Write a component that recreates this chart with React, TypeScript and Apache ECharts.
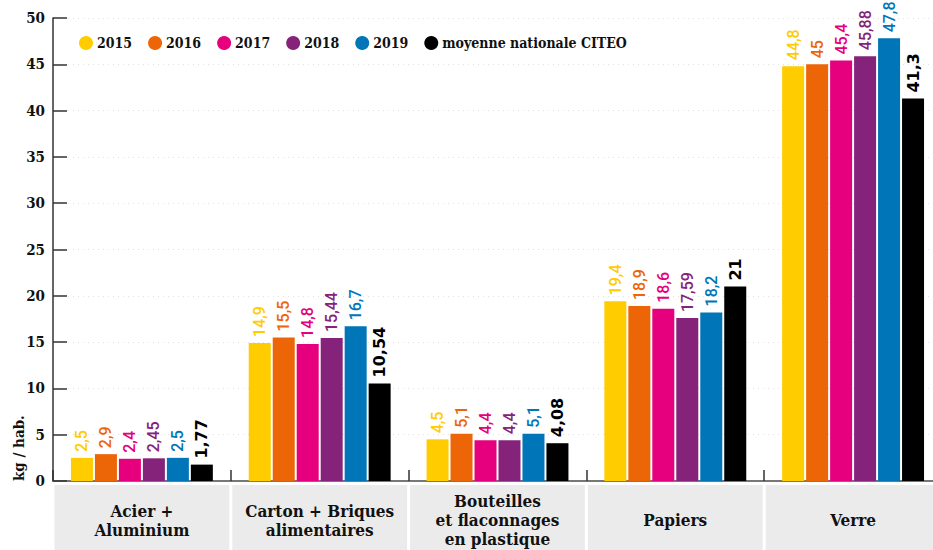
import React, { useEffect, useRef } from "react";
import * as echarts from "echarts";

const categories = [
  "Acier +\nAluminium",
  "Carton + Briques\nalimentaires",
  "Bouteilles\net flaconnages\nen plastique",
  "Papiers",
  "Verre",
];
const seriesNames = ["2015", "2016", "2017", "2018", "2019", "moyenne nationale CITEO"];
const seriesColors = ["#FFCC00", "#EC6608", "#E6007E", "#85237A", "#0075B7", "#000000"];
const v2015 = [2.5, 14.9, 4.5, 19.4, 44.8];
const v2016 = [2.9, 15.5, 5.1, 18.9, 45];
const v2017 = [2.4, 14.8, 4.4, 18.6, 45.4];
const v2018 = [2.45, 15.44, 4.4, 17.59, 45.88];
const v2019 = [2.5, 16.7, 5.1, 18.2, 47.8];
const vCiteo = [1.77, 10.54, 4.08, 21, 41.3];
const seriesValues = [v2015, v2016, v2017, v2018, v2019, vCiteo];
const yTicks = { min: 0, max: 50, interval: 5 };

const SERIF = "'DejaVu Serif Condensed', 'DejaVu Serif', serif";

export default function App() {
  const ref = useRef<HTMLDivElement>(null);
  useEffect(() => {
    if (!ref.current) return;
    const chart = echarts.init(ref.current, null, { renderer: "svg" });
    const barSeries = seriesNames.map((name, i) => {
      const isAvg = i === seriesNames.length - 1;
      return {
        type: "bar",
        name,
        data: seriesValues[i],
        barWidth: 22,
        barGap: "9%",
        itemStyle: { color: seriesColors[i] },
        label: {
          show: true,
          position: "top",
          rotate: 90,
          align: "left",
          verticalAlign: "middle",
          distance: 6,
          color: seriesColors[i],
          fontFamily: isAvg ? "'DejaVu Sans', sans-serif" : "Roboto, sans-serif",
          fontWeight: isAvg ? "bold" : 500,
          fontSize: 16,
          formatter: (p: any) => String(p.value).replace(".", ","),
        },
      };
    });
    const boxSeries = {
      type: "custom",
      name: "cats",
      clip: false,
      silent: true,
      z: 1,
      data: categories.map((_, i) => [i, 0]),
      encode: { x: 0, y: 1 },
      renderItem: (params: any, api: any) => {
        const idx = api.value(0);
        const pt = api.coord([idx, 0]);
        const w = api.size([1, 0])[0];
        const top = pt[1] + 4;
        return {
          type: "group",
          children: [
            {
              type: "rect",
              shape: { x: pt[0] - w / 2 + 1.5, y: top, width: w - 3, height: 70 },
              style: { fill: "#ebebeb" },
            },
            {
              type: "text",
              style: {
                text: categories[idx],
                x: pt[0],
                y: top + 35,
                align: "center",
                verticalAlign: "middle",
                fill: "#111",
                font: `bold 17px ${SERIF}`,
                lineHeight: 19,
              },
            },
          ],
        };
      },
    };
    chart.setOption({
      animation: false,
      backgroundColor: "#ffffff",
      grid: { left: 53, top: 18, width: 889, height: 463, containLabel: false },
      legend: {
        data: seriesNames,
        left: 74,
        top: 31,
        icon: "circle",
        itemWidth: 14,
        itemHeight: 14,
        itemGap: 16,
        selectedMode: false,
        textStyle: { fontFamily: SERIF, fontWeight: "bold", fontSize: 14, color: "#111", padding: [0, 0, 0, -1] },
      },
      xAxis: {
        type: "category",
        data: categories,
        axisLine: { lineStyle: { color: "#777", width: 2 } },
        axisTick: { show: true, inside: true, length: 11, lineStyle: { color: "#333", width: 1.5 } },
        axisLabel: { show: false },
      },
      yAxis: {
        type: "value",
        min: yTicks.min,
        max: yTicks.max,
        interval: yTicks.interval,
        axisLine: { show: true, lineStyle: { color: "#333", width: 1.5 } },
        axisTick: { show: true, inside: true, length: 14, lineStyle: { color: "#333", width: 1.5 } },
        axisLabel: { color: "#111", fontFamily: SERIF, fontWeight: "bold", fontSize: 15, margin: 8 },
        splitLine: { show: true, lineStyle: { color: "#e2e2e2", type: [1, 4], width: 1 } },
      },
      graphic: [
        {
          type: "text",
          x: 19,
          y: 481,
          rotation: Math.PI / 2,
          style: {
            text: "kg / hab.",
            align: "left",
            verticalAlign: "middle",
            fill: "#111",
            font: `bold 15px ${SERIF}`,
          },
        },
      ],
      series: [...barSeries, boxSeries],
    });
    return () => chart.dispose();
  }, []);
  return (
    <div style={{ position: "absolute", left: 0, top: 0, width: 933, height: 550, overflow: "hidden" }}>
      <div ref={ref} style={{ width: 960, height: 550 }} />
    </div>
  );
}
